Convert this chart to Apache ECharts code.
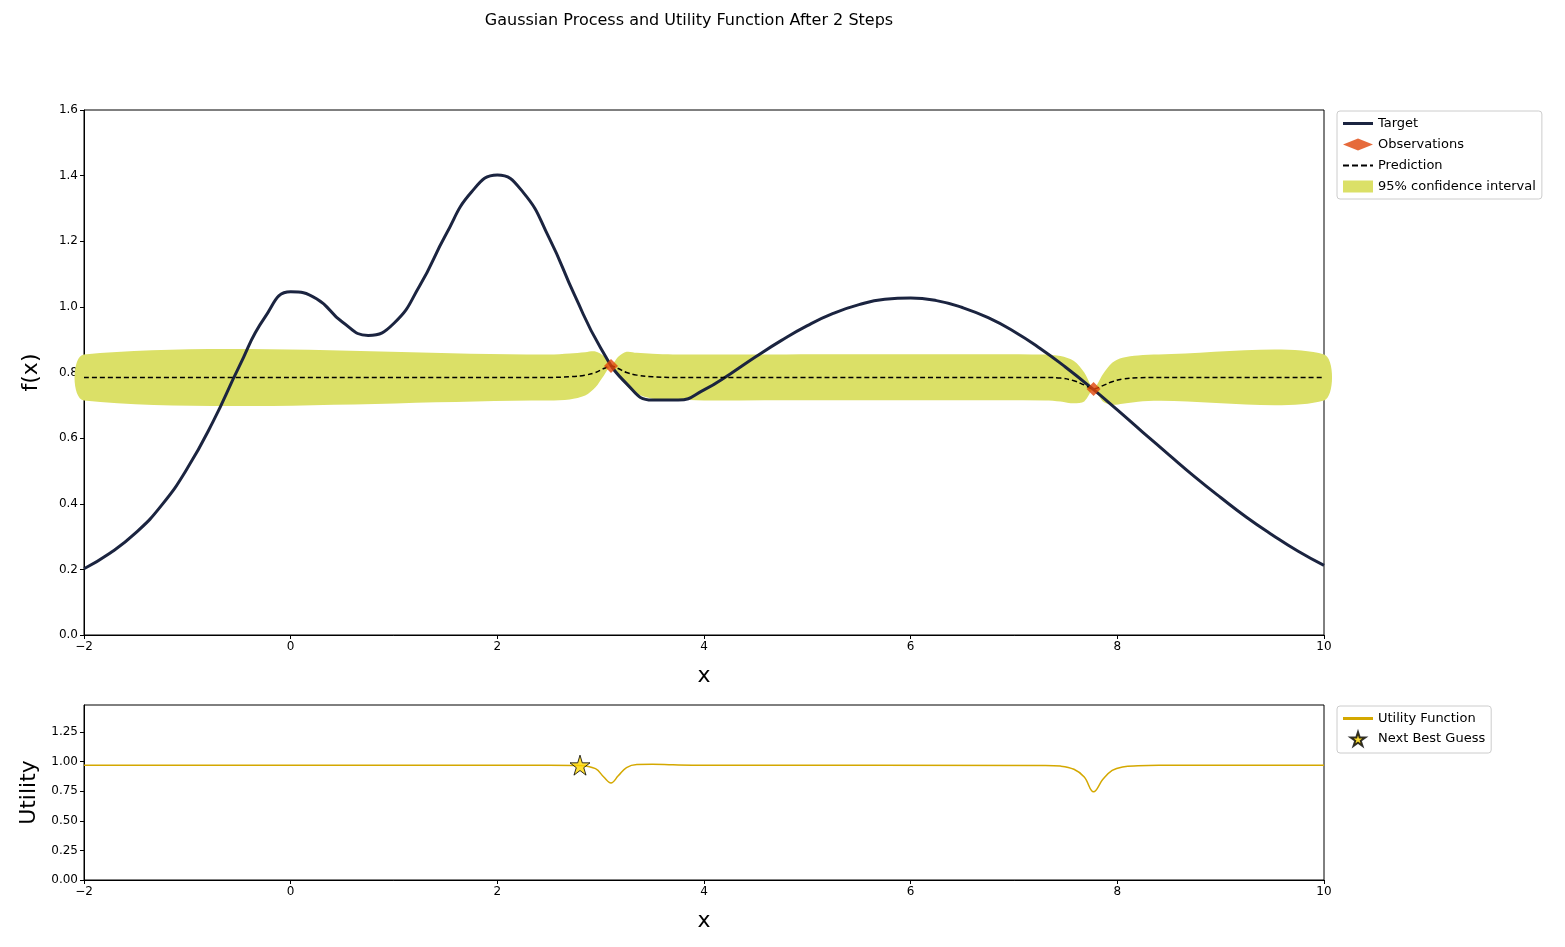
<!DOCTYPE html>
<html><head><meta charset="utf-8">
<script src="https://cdn.jsdelivr.net/npm/echarts@6/dist/echarts.min.js"></script>
<style>html,body{margin:0;padding:0;background:#fff}#c{width:1565px;height:947px}</style>
</head><body><div id="c"></div>
<script>
const targetX = [-2,-1.75,-1.5,-1.25,-1,-0.75,-0.5,-0.25,0,0.25,0.5,0.75,1,1.25,1.5,1.75,2,2.25,2.5,2.75,3,3.25,3.5,3.75,4,4.25,4.5,4.75,5,5.25,5.5,5.75,6,6.25,6.5,6.75,7,7.25,7.5,7.75,8,8.25,8.5,8.75,9,9.25,9.5,9.75,10];
const targetY = [0.202,0.249,0.311,0.395,0.508,0.651,0.817,0.968,1.046,1.025,0.954,0.913,0.950,1.065,1.219,1.350,1.402,1.349,1.211,1.034,0.875,0.766,0.716,0.716,0.747,0.795,0.848,0.898,0.943,0.980,1.007,1.023,1.027,1.019,0.998,0.967,0.925,0.874,0.816,0.753,0.686,0.617,0.549,0.482,0.419,0.359,0.305,0.255,0.212];
const predX = [-2,2.5,2.7,2.85,2.95,3.03,3.1,3.17,3.25,3.35,3.5,3.7,4,7.3,7.45,7.58,7.68,7.77,7.86,7.95,8.05,8.2,8.4,10];
const predY = [0.785,0.785,0.787,0.792,0.800,0.812,0.820,0.812,0.800,0.792,0.787,0.785,0.785,0.785,0.783,0.775,0.762,0.750,0.760,0.772,0.780,0.784,0.785,0.785];
const bandLow = [0.715,0.715,0.718,0.730,0.755,0.790,0.818,0.790,0.760,0.735,0.720,0.716,0.715,0.715,0.712,0.706,0.712,0.748,0.712,0.702,0.705,0.711,0.714,0.715];
const bandHigh = [0.855,0.855,0.858,0.862,0.864,0.850,0.822,0.848,0.863,0.860,0.857,0.855,0.855,0.855,0.850,0.835,0.800,0.752,0.795,0.830,0.845,0.852,0.855,0.855];
const obsX = [3.1,7.77];
const obsY = [0.82,0.75];
const utilX = [-2,2.5,2.8,2.95,3.03,3.1,3.17,3.25,3.35,3.5,3.7,4,7.3,7.45,7.58,7.68,7.77,7.86,7.95,8.05,8.2,8.4,10];
const utilY = [0.970,0.970,0.968,0.940,0.870,0.820,0.880,0.950,0.975,0.977,0.973,0.970,0.968,0.962,0.935,0.870,0.745,0.850,0.925,0.955,0.965,0.969,0.970];
const guessX = [2.8];
const guessY = [0.97];

const z = (a,b)=>a.map((v,i)=>[v,b[i]]);
const chart = echarts.init(document.getElementById('c'));
const ax = {
  type:'value', min:-2, max:10, interval:2,
  axisLine:{show:true,onZero:false,lineStyle:{color:'#000'}},
  axisTick:{show:true,inside:false,length:4,lineStyle:{color:'#000'}},
  axisLabel:{color:'#000',fontSize:12,fontFamily:'DejaVu Sans',margin:6,formatter:v=>v<0?'\u2212'+(-v):String(v)},
  splitLine:{show:false},
  name:'x', nameLocation:'middle', nameGap:30, nameTextStyle:{fontSize:22,color:'#000',fontFamily:'DejaVu Sans'}
};
const ay = (min,max,intv,name)=>({
  type:'value', min, max, interval:intv,
  axisLine:{show:true,onZero:false,lineStyle:{color:'#000'}},
  axisTick:{show:true,length:4,lineStyle:{color:'#000'}},
  axisLabel:{color:'#000',fontSize:12,fontFamily:'DejaVu Sans',margin:6,
    formatter:v=> intv===0.25 ? v.toFixed(2) : v.toFixed(1), showMaxLabel: intv!==0.25},
  splitLine:{show:false},
  name, nameLocation:'middle', nameGap:intv===0.25?44:42, nameTextStyle:{fontSize:22,color:'#000',fontFamily:'DejaVu Sans'}
});
const lineIcon = 'path://M0,0 L30,0 L30,3 L0,3 Z';
const dashIcon = 'path://M0,0 L6,0 L6,2 L0,2 Z M9,0 L15,0 L15,2 L9,2 Z M18,0 L24,0 L24,2 L18,2 Z M27,0 L30,0 L30,2 L27,2 Z';
const starPath = 'path://M50,0 L61,35 L98,35 L68,57 L79,91 L50,70 L21,91 L32,57 L2,35 L39,35 Z';
chart.setOption({
  animation:false,
  title:{text:'Gaussian Process and Utility Function After 2 Steps',left:684,top:8,textAlign:'center',
    textStyle:{fontSize:16,fontWeight:'normal',color:'#000',fontFamily:'DejaVu Sans'}},
  grid:[
    {left:84,width:1240,top:110,height:525,show:true,borderColor:'#000',borderWidth:1},
    {left:84,width:1240,top:705,height:175,show:true,borderColor:'#000',borderWidth:1}
  ],
  xAxis:[Object.assign({gridIndex:0},ax),Object.assign({gridIndex:1},ax)],
  yAxis:[Object.assign({gridIndex:0},ay(0,1.6,0.2,'f(x)')),Object.assign({gridIndex:1},ay(0,1.478,0.25,'Utility'))],
  legend:[
    {orient:'vertical',left:1337,top:111,padding:[6,6,6,6],itemGap:8,itemWidth:30,itemHeight:12,
     borderColor:'#ccc',borderWidth:1,borderRadius:3,
     textStyle:{fontSize:13,color:'#000',fontFamily:'DejaVu Sans'},
     data:[{name:'Target',icon:lineIcon},{name:'Observations',icon:'diamond'},{name:'Prediction',icon:dashIcon},{name:'95% confidence interval',icon:'rect'}]},
    {orient:'vertical',left:1337,top:706,padding:[6,6,6,6],itemGap:6,itemWidth:30,itemHeight:14,
     borderColor:'#ccc',borderWidth:1,borderRadius:3,
     textStyle:{fontSize:13,color:'#000',fontFamily:'DejaVu Sans'},
     data:[{name:'Utility Function',icon:lineIcon},{name:'Next Best Guess',icon:starPath}]}
  ],
  series:[
    {name:'95% confidence interval',type:'custom',xAxisIndex:0,yAxisIndex:0,
     itemStyle:{color:'#dbe067'},z:1,
     data:z(predX,bandLow),
     renderItem:(params,api)=>{
       if(params.dataIndex!==0) return null;
       const pts=[];
       for(let i=0;i<predX.length;i++) pts.push(api.coord([predX[i],bandHigh[i]]));
       for(let i=predX.length-1;i>=0;i--) pts.push(api.coord([predX[i],bandLow[i]]));
       return {type:'polygon',shape:{points:pts,smooth:0.3},style:{fill:'#dbe067'}};
     }},
    {name:'Target',type:'line',xAxisIndex:0,yAxisIndex:0,symbol:'none',smooth:0.5,
     lineStyle:{color:'#1b2440',width:3},itemStyle:{color:'#1b2440'},data:z(targetX,targetY),z:3},
    {name:'Prediction',type:'line',xAxisIndex:0,yAxisIndex:0,symbol:'none',smooth:0.4,
     lineStyle:{color:'#000',width:1.5,type:[5,3]},itemStyle:{color:'#000'},data:z(predX,predY),z:4},
    {name:'Observations',type:'scatter',xAxisIndex:0,yAxisIndex:0,symbol:'diamond',symbolSize:14,
     itemStyle:{color:'#e0450a'},data:z(obsX,obsY),z:5},
    {name:'Utility Function',type:'line',xAxisIndex:1,yAxisIndex:1,symbol:'none',smooth:0.4,
     lineStyle:{color:'#d4a800',width:1.5},itemStyle:{color:'#d4a800'},data:z(utilX,utilY),z:3},
    {name:'Next Best Guess',type:'scatter',xAxisIndex:1,yAxisIndex:1,
     symbol:starPath,symbolSize:20,
     itemStyle:{color:'#ffd700',borderColor:'#000',borderWidth:1},data:z(guessX,guessY),z:5}
  ]
});
</script></body></html>
